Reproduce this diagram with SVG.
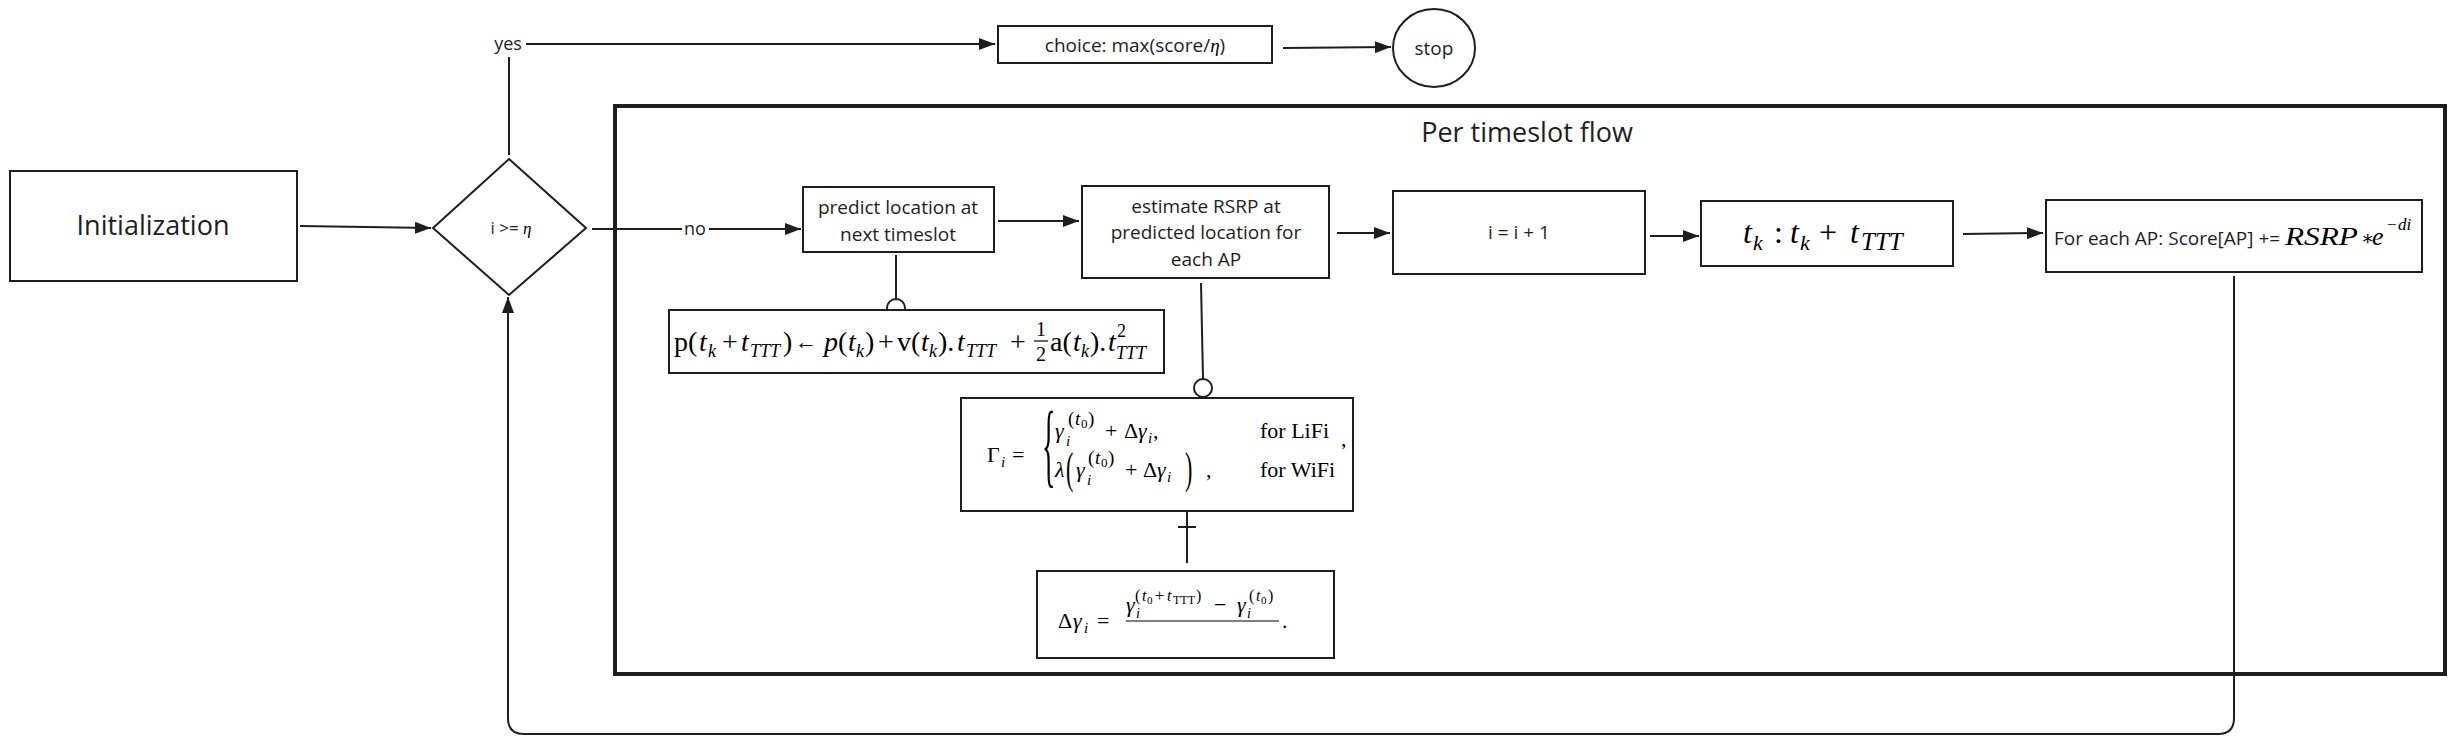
<svg xmlns="http://www.w3.org/2000/svg" width="2455" height="744" viewBox="0 0 2455 744">
<style>
.box{fill:#fff;stroke:#1e1e1e;stroke-width:2}
.frame{fill:none;stroke:#1e1e1e;stroke-width:4}
.edge{fill:none;stroke:#1e1e1e;stroke-width:2}
.arr{marker-end:url(#ah)}
.lbl{font-family:"Open Sans","Liberation Sans",sans-serif;fill:#1e1e1e;text-anchor:middle}
.lft{font-family:"Open Sans","Liberation Sans",sans-serif;fill:#1e1e1e}
.m{font-family:"Liberation Serif","DejaVu Serif",serif;fill:#000}
.it{font-style:italic}
</style>
<defs>
<marker id="ah" viewBox="0 0 16 12" refX="16" refY="6" markerWidth="16" markerHeight="12" markerUnits="userSpaceOnUse" orient="auto">
<path d="M0,0 L16,6 L0,12 z" fill="#1e1e1e"/>
</marker>
</defs>
<rect width="2455" height="744" fill="#fff"/>

<g id="container">
<rect class="frame" x="615" y="106" width="1830" height="568"/>
<text class="lbl" x="1527" y="142" font-size="27">Per timeslot flow</text>
</g>

<g id="connectors">
<path class="edge arr" d="M300 226 L431 228"/>
<path class="edge arr" d="M509 155 L509 44 L995 44"/>
<path class="edge arr" d="M592 229 L801 229"/>
<path class="edge arr" d="M1283 48 L1391 47"/>
<path class="edge arr" d="M998 221 L1079 221"/>
<path class="edge arr" d="M1337 233 L1390 233"/>
<path class="edge arr" d="M1650 236 L1699 236"/>
<path class="edge arr" d="M1963 234 L2043 233"/>
<path class="edge arr" d="M2234 276 L2234 718 Q2234 734 2218 734 L524 734 Q508 734 508 718 L508 297"/>
<path class="edge" d="M896 255 L896 299"/>
<circle class="box" cx="896" cy="308" r="9"/>
<path class="edge" d="M1201 283 L1203 379"/>
<circle class="box" cx="1203" cy="388" r="9"/>
<path class="edge" d="M1187 508 L1187 563 M1178 527 L1196 527"/>
<rect x="491" y="33" width="35" height="24" fill="#fff"/>
<text class="lbl" x="508" y="50" font-size="18">yes</text>
<rect x="682" y="218" width="27" height="22" fill="#fff"/>
<text class="lbl" x="695" y="235" font-size="18">no</text>
</g>

<g id="init">
<rect class="box" x="10" y="171" width="287" height="110"/>
<text class="lbl" x="153" y="235" font-size="27">Initialization</text>
</g>

<g id="decision">
<path class="box" d="M509 159 L586 228 L509 295 L433 228 Z"/>
<text class="lbl" x="511" y="234" font-size="17">i &gt;= <tspan class="m it">η</tspan></text>
</g>

<g id="choice">
<rect class="box" x="998" y="26" width="274" height="37"/>
<text class="lbl" x="1135" y="52" font-size="19">choice: max(score/<tspan class="m it">η</tspan>)</text>
</g>

<g id="stop">
<ellipse class="box" cx="1434" cy="48" rx="41" ry="39"/>
<text class="lbl" x="1434" y="55" font-size="19">stop</text>
</g>

<g id="predict">
<rect class="box" x="803" y="187" width="191" height="65"/>
<text class="lbl" font-size="19"><tspan x="898" y="214">predict location at</tspan><tspan x="898" y="241">next timeslot</tspan></text>
</g>

<g id="estimate">
<rect class="box" x="1082" y="186" width="247" height="92"/>
<text class="lbl" font-size="19"><tspan x="1206" y="213">estimate RSRP at</tspan><tspan x="1206" y="239">predicted location for</tspan><tspan x="1206" y="266">each AP</tspan></text>
</g>

<g id="increment">
<rect class="box" x="1393" y="191" width="252" height="83"/>
<text class="lbl" x="1519" y="239" font-size="19">i = i + 1</text>
</g>

<g id="timestep">
<rect class="box" x="1701" y="201" width="252" height="65"/>
<text class="m" font-size="32"><tspan class="it" x="1743" y="243">t</tspan><tspan class="it" x="1753" y="250" font-size="22">k</tspan><tspan x="1774" y="243">:</tspan><tspan class="it" x="1790" y="243">t</tspan><tspan class="it" x="1800" y="250" font-size="22">k</tspan><tspan x="1819" y="243">+</tspan><tspan class="it" x="1850" y="243">t</tspan><tspan class="it" x="1861" y="250" font-size="25">TTT</tspan></text>
</g>

<g id="score">
<rect class="box" x="2046" y="200" width="376" height="72"/>
<text class="lft" x="2054" y="245" font-size="19">For each AP: Score[AP] +=</text>
<text class="m it" x="2285" y="245" font-size="26" textLength="73" lengthAdjust="spacingAndGlyphs">RSRP</text>
<text class="m" x="2361" y="245" font-size="20">∗</text>
<text class="m" font-size="26"><tspan class="it" x="2372" y="245">e</tspan><tspan x="2387" y="230" font-size="17">−</tspan><tspan class="it" x="2398" y="230" font-size="17">di</tspan></text>
</g>

<g id="position">
<rect class="box" x="669" y="310" width="495" height="63"/>
<text class="m" font-size="28">
<tspan x="674" y="351">p(</tspan><tspan class="it" x="699" y="351">t</tspan><tspan class="it" x="708" y="357" font-size="18">k</tspan>
<tspan x="722" y="351">+</tspan><tspan class="it" x="741" y="351">t</tspan><tspan class="it" x="750" y="357" font-size="18">TTT</tspan><tspan x="783" y="351">)</tspan>
<tspan x="795" y="349" font-size="22">←</tspan>
<tspan class="it" x="824" y="351">p</tspan><tspan x="838" y="351">(</tspan><tspan class="it" x="848" y="351">t</tspan><tspan class="it" x="856" y="357" font-size="18">k</tspan><tspan x="865" y="351">)</tspan>
<tspan x="878" y="351">+</tspan>
<tspan x="897" y="351">v(</tspan><tspan class="it" x="921" y="351">t</tspan><tspan class="it" x="929" y="357" font-size="18">k</tspan><tspan x="938" y="351">).</tspan>
<tspan class="it" x="957" y="351">t</tspan><tspan class="it" x="966" y="357" font-size="18">TTT</tspan>
<tspan x="1010" y="351">+</tspan>
<tspan x="1036" y="336" font-size="20">1</tspan><tspan x="1036" y="361" font-size="20">2</tspan>
<tspan x="1050" y="351">a(</tspan><tspan class="it" x="1073" y="351">t</tspan><tspan class="it" x="1081" y="357" font-size="18">k</tspan><tspan x="1090" y="351">).</tspan>
<tspan class="it" x="1108" y="351">t</tspan><tspan x="1117" y="337" font-size="18">2</tspan><tspan class="it" x="1116" y="359" font-size="18">TTT</tspan>
</text>
<path d="M1034 341 L1048 341" stroke="#000" stroke-width="1.2"/>
</g>

<g id="gamma">
<rect class="box" x="961" y="398" width="392" height="113"/>
<text class="m" font-size="22">
<tspan x="987" y="462">Γ</tspan><tspan class="it" x="1001" y="467" font-size="15">i</tspan>
<tspan x="1012" y="462">=</tspan>
<tspan class="it" x="1055" y="438">γ</tspan><tspan class="it" x="1066" y="446" font-size="15">i</tspan>
<tspan x="1068" y="425" font-size="19">(</tspan><tspan class="it" x="1075" y="425" font-size="19">t</tspan><tspan x="1081" y="428" font-size="13">0</tspan><tspan x="1088" y="425" font-size="19">)</tspan>
<tspan x="1105" y="438">+</tspan>
<tspan x="1124" y="438">Δ</tspan><tspan class="it" x="1138" y="438">γ</tspan><tspan class="it" x="1148" y="443" font-size="15">i</tspan><tspan x="1153" y="438">,</tspan>
<tspan x="1260" y="438">for LiFi</tspan>
<tspan class="it" x="1055" y="477">λ</tspan>
<tspan class="it" x="1076" y="477">γ</tspan><tspan class="it" x="1087" y="485" font-size="15">i</tspan>
<tspan x="1088" y="464" font-size="19">(</tspan><tspan class="it" x="1095" y="464" font-size="19">t</tspan><tspan x="1101" y="467" font-size="13">0</tspan><tspan x="1108" y="464" font-size="19">)</tspan>
<tspan x="1125" y="477">+</tspan>
<tspan x="1143" y="477">Δ</tspan><tspan class="it" x="1157" y="477">γ</tspan><tspan class="it" x="1167" y="482" font-size="15">i</tspan>
<tspan x="1206" y="477">,</tspan>
<tspan x="1260" y="477">for WiFi</tspan>
<tspan x="1341" y="446">,</tspan>
</text>
<text class="m" font-size="28" transform="translate(1042,476) scale(1,3.3)">{</text>
<text class="m" font-size="22" transform="translate(1066,483) scale(1,2)">(</text>
<text class="m" font-size="22" transform="translate(1185,483) scale(1,2)">)</text>
</g>

<g id="delta">
<rect class="box" x="1037" y="571" width="297" height="87"/>
<text class="m" font-size="22">
<tspan x="1058" y="628">Δ</tspan><tspan class="it" x="1073" y="628">γ</tspan><tspan class="it" x="1084" y="633" font-size="15">i</tspan>
<tspan x="1097" y="628">=</tspan>
<tspan class="it" x="1126" y="612">γ</tspan><tspan class="it" x="1136" y="618" font-size="14">i</tspan>
<tspan x="1135" y="601" font-size="16">(</tspan><tspan class="it" x="1142" y="601" font-size="16">t</tspan><tspan x="1147" y="604" font-size="11">0</tspan><tspan x="1155" y="601" font-size="16">+</tspan><tspan class="it" x="1167" y="601" font-size="16">t</tspan><tspan x="1173" y="604" font-size="12">TTT</tspan><tspan x="1196" y="601" font-size="16">)</tspan>
<tspan x="1214" y="612">−</tspan>
<tspan class="it" x="1237" y="612">γ</tspan><tspan class="it" x="1247" y="618" font-size="14">i</tspan>
<tspan x="1249" y="601" font-size="16">(</tspan><tspan class="it" x="1256" y="601" font-size="16">t</tspan><tspan x="1261" y="604" font-size="11">0</tspan><tspan x="1268" y="601" font-size="16">)</tspan>
<tspan x="1282" y="628">.</tspan>
</text>
<path d="M1126 621 L1279 621" stroke="#000" stroke-width="1.2"/>
</g>
</svg>
